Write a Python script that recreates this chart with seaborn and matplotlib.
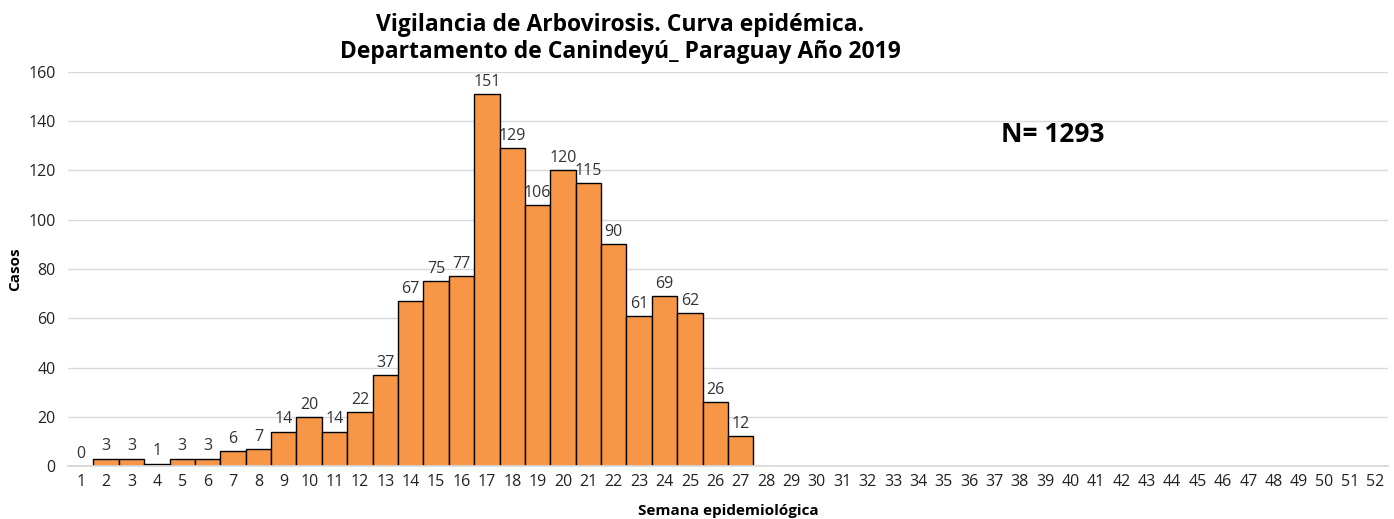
import matplotlib
matplotlib.use("Agg")
import matplotlib.pyplot as plt
import seaborn as sns
import pandas as pd

weeks = [str(w) for w in range(1, 53)]
data_weeks = [str(w) for w in range(1, 28)]
cases = [0, 3, 3, 1, 3, 3, 6, 7, 14, 20, 14, 22, 37, 67, 75, 77, 151, 129,
         106, 120, 115, 90, 61, 69, 62, 26, 12]
title = "Vigilancia de Arbovirosis. Curva epidémica.\nDepartamento de Canindeyú_ Paraguay Año 2019"
total_label = "N= 1293"
x_label = "Semana epidemiológica"
y_label = "Casos"
y_ticks = [0, 20, 40, 60, 80, 100, 120, 140, 160]

sns.set_theme(style="white")
plt.rcParams['font.family'] = ['Open Sans', 'DejaVu Sans']

df = pd.DataFrame({"week": data_weeks, "cases": cases})

fig = plt.figure(figsize=(13.94, 5.19), dpi=100)
ax = fig.add_axes([0.0488, 0.1021, 0.9469, 0.7592])

sns.barplot(data=df, x="week", y="cases", order=weeks, color="#F79646",
            width=1.0, edgecolor="black", linewidth=1.0, saturation=1, ax=ax)

for c in ax.containers:
    ax.bar_label(c, labels=[str(v) for v in cases], padding=3,
                 fontsize=11.5, color="#333333")

ax.set_ylim(0, 160)
ax.set_yticks(y_ticks)
ax.set_xlim(-0.5, 51.5)
ax.yaxis.grid(True, color="#D9D9D9", linewidth=1)
ax.set_axisbelow(True)
for s in ["top", "right", "left"]:
    ax.spines[s].set_visible(False)
ax.spines["bottom"].set_color("#D9D9D9")
ax.tick_params(axis="both", length=0, labelsize=11.5, colors="#222222")
ax.tick_params(axis="y", pad=9)
ax.tick_params(axis="x", pad=6)

ax.set_xlabel(x_label, fontsize=11, fontweight="bold", labelpad=10, color="black")
ax.set_ylabel(y_label, fontsize=11, fontweight="bold", labelpad=4, color="black")

fig.text(0.445, 0.975, title, ha="center", va="top", fontsize=16.5,
         fontweight="bold", linespacing=1.15, color="black")
fig.text(0.7555, 0.74, total_label, ha="center", va="center", fontsize=19,
         fontweight="bold", color="black")

fig.savefig("out.png", dpi=100)
